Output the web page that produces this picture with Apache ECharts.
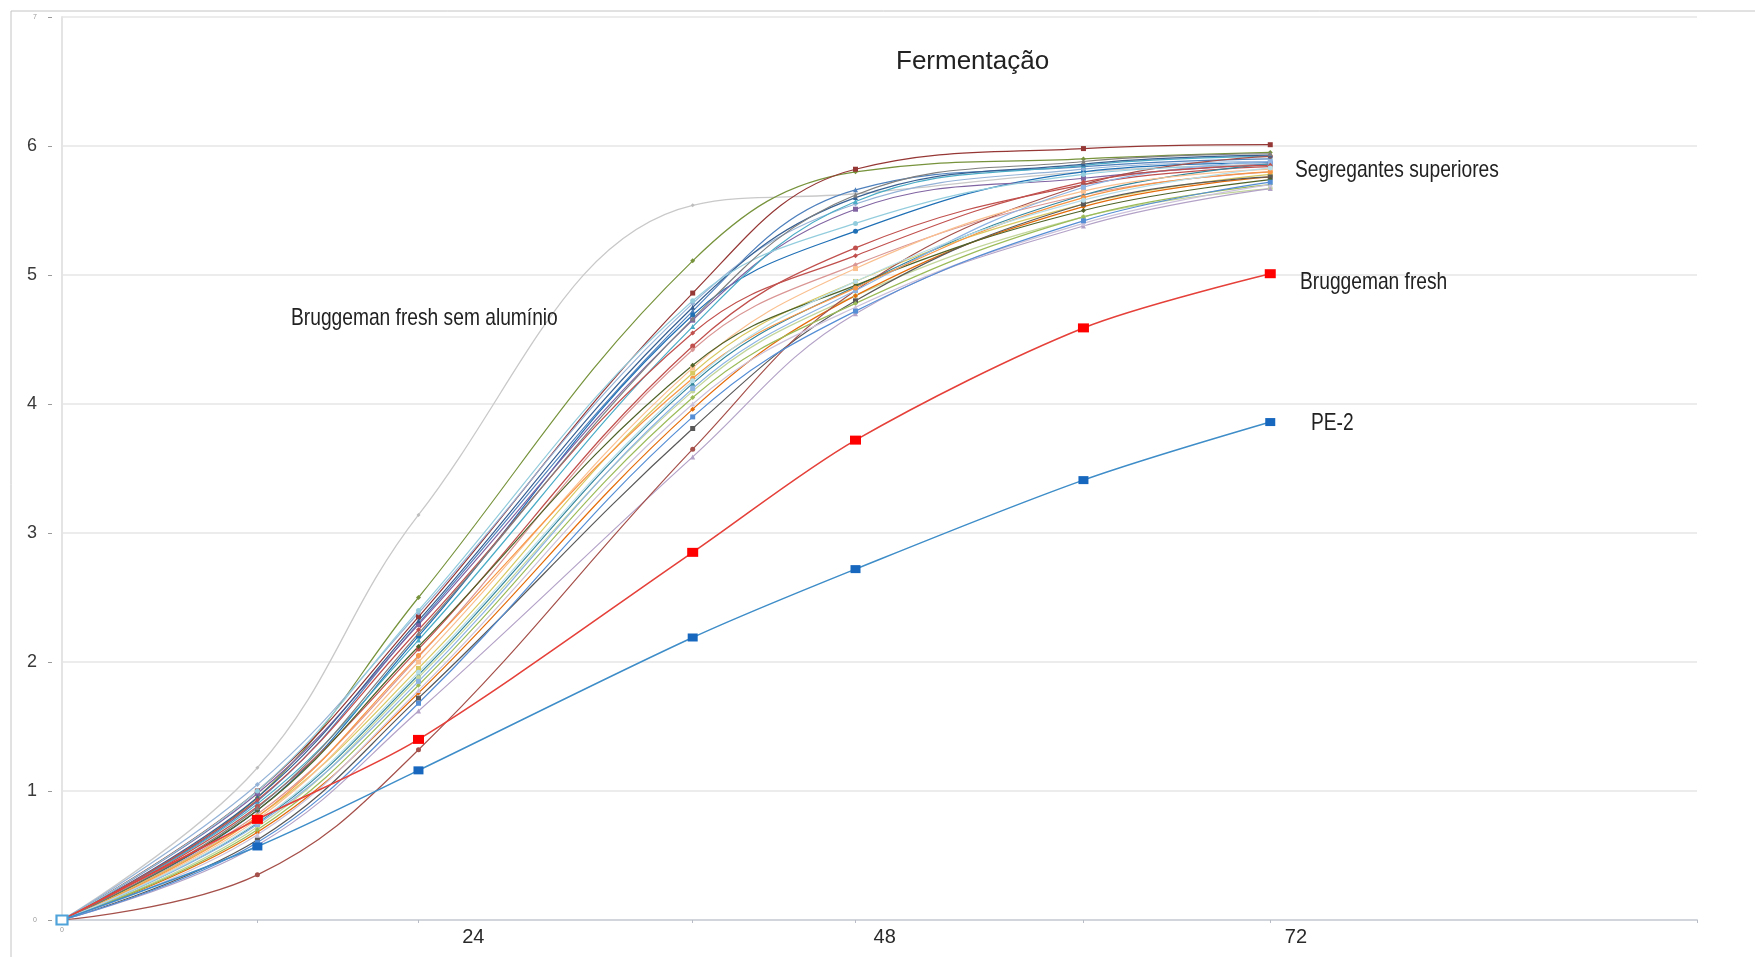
<!DOCTYPE html>
<html>
<head>
<meta charset="utf-8">
<script src="https://cdn.jsdelivr.net/npm/echarts@6/dist/echarts.min.js"></script>
<style>
  html, body { margin: 0; padding: 0; background: #fff; }
  #chart { width: 1755px; height: 957px; }
</style>
</head>
<body>
<div id="chart"></div>
<script>
// ---- data ----
const hours = [0, 11.4, 20.8, 36.8, 46.3, 59.6, 70.5];
const xLabelHours = [0, 24, 48, 72];
const xAxisEnd = 95.4;

const bruggemanFresh = [0, 0.78, 1.40, 2.85, 3.72, 4.59, 5.01];
const pe2 = [0, 0.57, 1.16, 2.19, 2.72, 3.41, 3.86];
const bruggemanSemAluminio = [0, 1.18, 3.14, 5.54, 5.63, 5.80, 5.86];

const segregantes = [
  [0, 0.95, 2.50, 5.11, 5.80, 5.90, 5.95],
  [0, 1.00, 2.35, 4.86, 5.82, 5.98, 6.01],
  [0, 0.92, 2.30, 4.72, 5.66, 5.84, 5.90],
  [0, 0.85, 2.20, 4.69, 5.34, 5.80, 5.87],
  [0, 1.05, 2.38, 4.78, 5.55, 5.82, 5.88],
  [0, 0.98, 2.29, 4.65, 5.51, 5.75, 5.86],
  [0, 0.90, 2.17, 4.60, 5.57, 5.85, 5.92],
  [0, 0.88, 2.10, 4.45, 5.21, 5.70, 5.84],
  [0, 0.82, 2.04, 4.42, 5.08, 5.62, 5.80],
  [0, 0.80, 1.95, 4.24, 4.95, 5.55, 5.78],
  [0, 0.75, 1.90, 4.16, 4.91, 5.62, 5.86],
  [0, 0.72, 1.88, 4.10, 4.84, 5.45, 5.67],
  [0, 0.68, 1.76, 3.96, 4.84, 5.53, 5.76],
  [0, 0.62, 1.72, 3.81, 4.80, 5.55, 5.76],
  [0, 0.58, 1.62, 3.59, 4.70, 5.38, 5.67],
  [0, 0.35, 1.32, 3.65, 4.88, 5.70, 5.92],
  [0, 0.70, 1.82, 4.05, 4.78, 5.45, 5.70],
  [0, 0.78, 2.00, 4.28, 5.05, 5.65, 5.82],
  [0, 0.95, 2.32, 4.75, 5.60, 5.86, 5.93],
  [0, 1.00, 2.40, 4.80, 5.40, 5.78, 5.85],
  [0, 0.85, 2.12, 4.30, 4.92, 5.50, 5.74],
  [0, 0.74, 1.85, 4.12, 4.88, 5.68, 5.88],
  [0, 0.66, 1.78, 4.00, 4.75, 5.40, 5.70],
  [0, 0.80, 2.05, 4.20, 4.90, 5.60, 5.80],
  [0, 0.93, 2.25, 4.55, 5.15, 5.72, 5.85],
  [0, 0.60, 1.68, 3.90, 4.72, 5.42, 5.72],
  [0, 0.87, 2.22, 4.66, 5.62, 5.88, 5.94],
  [0, 0.76, 1.92, 4.18, 4.95, 5.58, 5.83]
];

const segColors = ['#77933C','#953735','#4F81BD','#1F6FB5','#95B3D7','#8064A2','#4BACC6',
  '#C0504D','#D99694','#D7C860','#31859C','#C3D69B','#E46C0A','#595959','#B3A2C7','#A5504A',
  '#9BBB59','#FAC090','#376092','#93CDDD','#4F6228','#8EB4E3','#CCC1DA','#F79646','#C0504D',
  '#558ED5','#7F7F7F','#B7DEE8'];
const segShapes = ['diamond', 'rect', 'triangle', 'circle'];

function pairs(vals) { return vals.map((v, i) => [hours[i], v]); }

const series = [];
segregantes.forEach((vals, i) => {
  series.push({
    name: 'Segregante ' + (i + 1),
    type: 'line',
    smooth: 0.4,
    data: pairs(vals),
    symbol: segShapes[i % segShapes.length],
    symbolSize: 5,
    showSymbol: true,
    lineStyle: { color: segColors[i], width: 1.2 },
    itemStyle: { color: segColors[i] },
    z: 2
  });
});
series.push({
  name: 'Bruggeman fresh sem alumínio',
  type: 'line', smooth: 0.4,
  data: pairs(bruggemanSemAluminio),
  symbol: 'diamond', symbolSize: 4,
  lineStyle: { color: '#c9c9c9', width: 1.3 },
  itemStyle: { color: '#bdbdbd' },
  z: 1
});
series.push({
  name: 'Bruggeman fresh',
  type: 'line', smooth: 0.3,
  data: pairs(bruggemanFresh),
  symbol: 'rect', symbolSize: [11, 9],
  lineStyle: { color: '#E5413A', width: 1.6 },
  itemStyle: { color: '#FF0000' },
  z: 4
});
series.push({
  name: 'PE-2',
  type: 'line', smooth: 0.3,
  data: pairs(pe2).map((p, i) => i === 0
    ? { value: p, symbolSize: [11, 9], itemStyle: { color: '#ffffff', borderColor: '#4FA3D9', borderWidth: 2 } }
    : p),
  symbol: 'rect', symbolSize: [10, 8],
  lineStyle: { color: '#3E8DC8', width: 1.5 },
  itemStyle: { color: '#1767BE' },
  z: 5
});

const chart = echarts.init(document.getElementById('chart'), null, { renderer: 'canvas' });
const FONT = '"Liberation Sans", Arial, sans-serif';

chart.setOption({
  animation: false,
  backgroundColor: '#ffffff',
  title: {
    text: 'Fermentação',
    left: 896, top: 49, padding: 0,
    textStyle: { fontSize: 26, fontWeight: 'normal', color: '#222', fontFamily: FONT }
  },
  grid: { left: 62, right: 58, top: 17, bottom: 37, outerBoundsMode: 'none' },
  xAxis: {
    type: 'value', min: 0, max: xAxisEnd,
    axisLine: { show: true, lineStyle: { color: '#d2d6dc', width: 2 } },
    axisTick: { show: true, length: 3, lineStyle: { color: '#b8bcc4' },
      customValues: hours.slice(1).concat([xAxisEnd]) },
    axisLabel: {
      customValues: xLabelHours,
      fontSize: 20, color: '#2a2a2a', fontFamily: FONT, margin: 7,
      formatter: v => v === 0 ? '{t|0}' : String(v),
      rich: { t: { fontSize: 7, color: '#999' } }
    },
    splitLine: { show: false }
  },
  yAxis: [{
    type: 'value', min: 0, max: 7, interval: 1,
    axisLine: { show: true, lineStyle: { color: '#e4e4e4', width: 2 } },
    axisTick: { show: false },
    axisLabel: {
      fontSize: 18, color: '#3a3a3a', fontFamily: FONT, margin: 25,
      formatter: v => (v === 0 || v === 7) ? '{t|' + v + '}' : String(v),
      rich: { t: { fontSize: 7, color: '#999' } }
    },
    splitLine: { show: true, lineStyle: { color: '#e6e6e6', width: 1.5 } }
  }, {
    type: 'value', min: 0, max: 7, interval: 1, position: 'left', offset: 10,
    axisLine: { show: false },
    axisTick: { show: true, length: 4, lineStyle: { color: '#9a9a9a' } },
    axisLabel: { show: false },
    splitLine: { show: false }
  }],
  graphic: [
    { type: 'rect', silent: true, z: -10,
      shape: { x: 11, y: 11, width: 1800, height: 1000 },
      style: { fill: 'none', stroke: '#c4c4c4', lineWidth: 1 } },
    { type: 'text', x: 1295, y: 170, scaleX: 0.8, z: 10,
      style: { text: 'Segregantes superiores', fontSize: 24, fontFamily: FONT, fill: '#222', align: 'left', verticalAlign: 'middle' } },
    { type: 'text', x: 1300, y: 282, scaleX: 0.8, z: 10,
      style: { text: 'Bruggeman fresh', fontSize: 24, fontFamily: FONT, fill: '#222', align: 'left', verticalAlign: 'middle' } },
    { type: 'text', x: 1311, y: 423, scaleX: 0.8, z: 10,
      style: { text: 'PE-2', fontSize: 24, fontFamily: FONT, fill: '#222', align: 'left', verticalAlign: 'middle' } },
    { type: 'text', x: 291, y: 318, scaleX: 0.8, z: 10,
      style: { text: 'Bruggeman fresh sem alumínio', fontSize: 24, fontFamily: FONT, fill: '#222', align: 'left', verticalAlign: 'middle' } }
  ],
  series: series
});
</script>
</body>
</html>
